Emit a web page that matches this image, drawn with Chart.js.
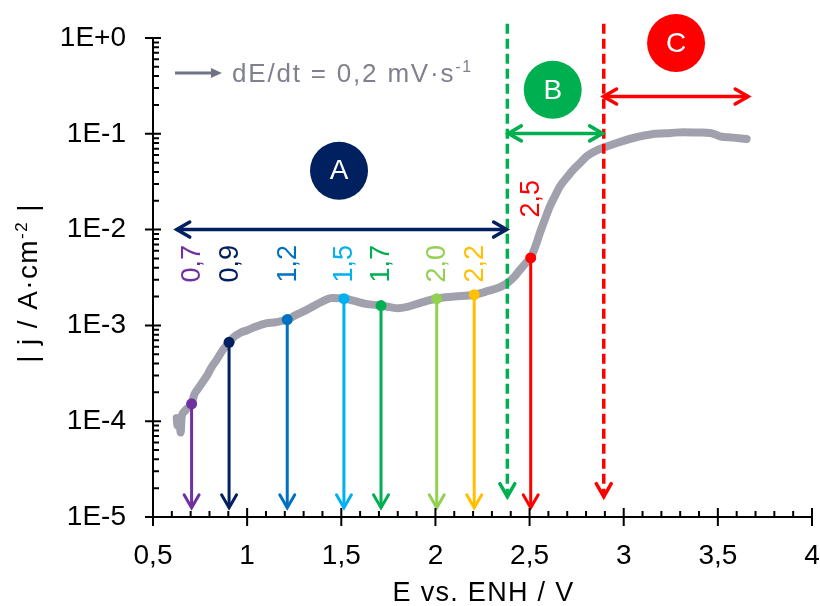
<!DOCTYPE html>
<html><head><meta charset="utf-8">
<script src="https://cdn.jsdelivr.net/npm/chart.js@4.4.1/dist/chart.umd.min.js"></script>
<style>html,body{margin:0;padding:0;background:#fff;}canvas{display:block;}</style>
</head><body>
<canvas id="c" width="820" height="606" style="width:820px;height:606px"></canvas>
<script>
const FONT = "'Liberation Sans', Arial, sans-serif";

// polarization curve |j| vs E
const curveE = [0.626,0.630,0.640,0.647,0.652,0.665,0.680,0.692,0.705,0.720,0.740,0.760,0.785,0.810,0.838,0.870,0.904,0.930,0.962,1.000,1.050,1.100,1.150,1.213,1.260,1.300,1.350,1.400,1.450,1.514,1.570,1.630,1.711,1.760,1.800,1.850,1.920,2.007,2.100,2.206,2.280,2.343,2.382,2.420,2.449,2.480,2.506,2.530,2.555,2.580,2.608,2.635,2.661,2.700,2.732,2.770,2.803,2.850,2.888,2.963,3.051,3.157,3.250,3.316,3.400,3.458,3.490,3.511,3.580,3.653];
const curveJ = [1.08e-4,9.0e-5,1.0e-4,7.6e-5,1.1e-4,1.25e-4,1.35e-4,1.40e-4,1.52e-4,1.91e-4,2.19e-4,2.51e-4,2.95e-4,3.63e-4,4.37e-4,5.50e-4,6.65e-4,7.59e-4,8.34e-4,8.91e-4,9.77e-4,1.05e-3,1.08e-3,1.15e-3,1.29e-3,1.40e-3,1.58e-3,1.78e-3,1.93e-3,1.91e-3,1.80e-3,1.68e-3,1.61e-3,1.55e-3,1.51e-3,1.56e-3,1.72e-3,1.91e-3,2.00e-3,2.09e-3,2.29e-3,2.51e-3,2.77e-3,3.24e-3,3.80e-3,4.47e-3,5.06e-3,6.61e-3,9.23e-3,1.26e-2,1.75e-2,2.24e-2,2.82e-2,3.55e-2,4.22e-2,5.01e-2,5.81e-2,6.61e-2,7.11e-2,8.02e-2,9.04e-2,9.95e-2,1.02e-1,1.04e-1,1.03e-1,1.02e-1,9.77e-2,9.40e-2,9.12e-2,8.83e-2];

// marked potentials
const markE = [0.705,0.904,1.213,1.514,1.711,2.007,2.206,2.506];
const markJ = [1.52e-4,6.65e-4,1.15e-3,1.90e-3,1.61e-3,1.90e-3,2.09e-3,5.06e-3];
const markLabels = ['0,7','0,9','1,2','1,5','1,7','2,0','2,2','2,5'];
const markLabelJ = [4.4e-3,4.4e-3,4.4e-3,4.4e-3,4.4e-3,4.4e-3,4.4e-3,2.1e-2];
const markColors = ['#7030a0','#002060','#0070c0','#00b0f0','#00b050','#92d050','#ffc000','#ff0000'];
const markArrowTipJ = 1.25e-5;

// regions A, B, C
const regionNames = ['A','B','C'];
const regionColors = ['#002060','#00b050','#ff0000'];
const regionCircleE = [1.488,2.623,3.278];
const regionCircleJ = [0.0412,0.288,0.887];
const regionFromE = [0.626,2.387,2.893];
const regionToE = [2.378,2.888,3.661];
const regionArrowJ = [0.01,0.101,0.245];

// region limits (dashed)
const limitE = [2.382,2.894];
const limitColors = ['#00b050','#ff0000'];
const limitTopJ = 1.41;
const limitTipJ = 1.63e-5;

// scan-rate note
const noteFromE = 0.617, noteToE = 0.866, noteJ = 0.431, noteTextE = 0.920;
const noteText = 'dE/dt = 0,2 mV·s', noteSup = '-1';

// axes
const xTickValues = [0.5,1,1.5,2,2.5,3,3.5,4];
const xTickLabels = ['0,5','1','1,5','2','2,5','3','3,5','4'];
const yTickValues = [1e-5,1e-4,1e-3,1e-2,1e-1,1];
const yTickLabels = ['1E-5','1E-4','1E-3','1E-2','1E-1','1E+0'];
const xTitle = 'E vs. ENH / V';
const yTitleParts = [['| j / A·cm',false],['-2',true],[' |',false]];

const pts = (xs, ys) => xs.map((v,i)=>({x:v,y:ys[i]}));
const datasets = [];
datasets.push({data: pts(curveE, curveJ), showLine:true, borderColor:'#a1a1ad', borderWidth:8, pointRadius:0, cubicInterpolationMode:'monotone', borderCapStyle:'round', borderJoinStyle:'round', order:10});
markE.forEach((e,i)=>datasets.push({data:[{x:e,y:markJ[i]},{x:e,y:markArrowTipJ}], showLine:true, borderColor:markColors[i], borderWidth:3, pointRadius:0, order:5}));
limitE.forEach((e,i)=>datasets.push({data:[{x:e,y:limitTopJ},{x:e,y:limitTipJ}], showLine:true, borderColor:limitColors[i], borderWidth:3.5, borderDash:[10,5], pointRadius:0, clip:false, order:2}));
regionNames.forEach((n,i)=>datasets.push({data:[{x:regionFromE[i],y:regionArrowJ[i]},{x:regionToE[i],y:regionArrowJ[i]}], showLine:true, borderColor:regionColors[i], borderWidth:3.5, pointRadius:0, clip:false, order:3}));
datasets.push({data: pts(markE, markJ), showLine:false, pointRadius:5.5, pointBackgroundColor:markColors, pointBorderWidth:0, order:1});
datasets.push({data: pts(regionCircleE, regionCircleJ), showLine:false, pointRadius:29, pointBackgroundColor:regionColors, pointBorderWidth:0, clip:false, order:0});
datasets.push({data:[{x:noteFromE,y:noteJ},{x:noteToE-0.03,y:noteJ}], showLine:true, borderColor:'#727285', borderWidth:3, pointRadius:0, clip:false, order:0});

function chevron(ctx, x, y, dx, dy, color, w){
  const len=13, half=7.5;
  const bx = x - dx*len, by = y - dy*len;
  const nx = -dy, ny = dx;
  ctx.beginPath();
  ctx.moveTo(bx + nx*half, by + ny*half);
  ctx.lineTo(x, y);
  ctx.lineTo(bx - nx*half, by - ny*half);
  ctx.strokeStyle=color; ctx.lineWidth=w; ctx.lineCap='round'; ctx.lineJoin='miter'; ctx.setLineDash([]);
  ctx.stroke();
}
function setSpacing(ctx, s){ if ('letterSpacing' in ctx) ctx.letterSpacing = s+'px'; }
function partsWidth(ctx, parts, fs){
  let w=0; parts.forEach(([t,s])=>{ctx.font=(s?Math.round(fs*0.62):fs)+'px '+FONT; w+=ctx.measureText(t).width;}); return w;
}
function drawParts(ctx, parts, x, y, fs){
  parts.forEach(([t,s])=>{ctx.font=(s?Math.round(fs*0.62):fs)+'px '+FONT; ctx.fillText(t, x, s? y-fs*0.36 : y); x+=ctx.measureText(t).width;});
}

const decor = {
  id:'decor',
  afterDatasetsDraw(chart){
    const {ctx, scales:{x, y}} = chart;
    const px=v=>x.getPixelForValue(v), py=v=>y.getPixelForValue(v);
    ctx.save();
    markE.forEach((e,i)=>chevron(ctx, px(e), py(markArrowTipJ), 0, 1, markColors[i], 3));
    limitE.forEach((e,i)=>chevron(ctx, px(e), py(limitTipJ), 0, 1, limitColors[i], 3.5));
    regionNames.forEach((n,i)=>{
      chevron(ctx, px(regionFromE[i]), py(regionArrowJ[i]), -1, 0, regionColors[i], 3.5);
      chevron(ctx, px(regionToE[i]), py(regionArrowJ[i]), 1, 0, regionColors[i], 3.5);
    });
    ctx.font = '27px '+FONT; ctx.textAlign='center'; ctx.textBaseline='middle';
    markLabels.forEach((t,i)=>{
      ctx.save(); ctx.translate(px(markE[i])+1, py(markLabelJ[i])); ctx.rotate(-Math.PI/2);
      ctx.fillStyle=markColors[i]; ctx.fillText(t,0,0); ctx.restore();
    });
    ctx.font='28px '+FONT; ctx.fillStyle='#fff';
    regionNames.forEach((n,i)=>ctx.fillText(n, px(regionCircleE[i]), py(regionCircleJ[i])+1));
    const tx=px(noteToE), ty=py(noteJ);
    ctx.beginPath(); ctx.moveTo(tx,ty); ctx.lineTo(tx-11,ty-5); ctx.lineTo(tx-11,ty+5); ctx.closePath();
    ctx.fillStyle='#727285'; ctx.fill();
    ctx.fillStyle='#80808f'; ctx.textAlign='left'; ctx.textBaseline='alphabetic';
    setSpacing(ctx, 1.8);
    drawParts(ctx, [[noteText,false],[noteSup,true]], px(noteTextE), ty+8.5, 26);
    setSpacing(ctx, 0);
    ctx.restore();
  },
  afterDraw(chart){
    const {ctx, scales:{x, y}} = chart;
    const px=v=>x.getPixelForValue(v), py=v=>y.getPixelForValue(v);
    const x0=px(0.5), x1=px(4), y0=py(1e-5), y1=py(1);
    ctx.save();
    ctx.strokeStyle='#000'; ctx.lineWidth=2; ctx.setLineDash([]); ctx.lineCap='butt';
    ctx.beginPath(); ctx.moveTo(x0,y1); ctx.lineTo(x0,y0); ctx.moveTo(x0,y0); ctx.lineTo(x1,y0); ctx.stroke();
    ctx.beginPath();
    yTickValues.forEach(v=>{const yy=py(v); ctx.moveTo(x0-8,yy); ctx.lineTo(x0+8,yy);});
    for(let d=-5; d<0; d++){ for(let k=2;k<=9;k++){ const yy=py(k*Math.pow(10,d)); ctx.moveTo(x0,yy); ctx.lineTo(x0+6,yy);} }
    xTickValues.forEach(v=>{const xx=px(v); ctx.moveTo(xx,y0-9); ctx.lineTo(xx,y0+9);});
    for(let i=5;i<=40;i++){ if(i%5===0) continue; const xx=px(i/10); ctx.moveTo(xx,y0); ctx.lineTo(xx,y0-6);}
    ctx.stroke();
    ctx.fillStyle='#000'; ctx.textBaseline='alphabetic';
    ctx.font='27px '+FONT; ctx.textAlign='center';
    setSpacing(ctx, 1.3);
    ctx.fillText(xTitle, (x0+x1)/2 + 1, 601);
    const fs=28;
    setSpacing(ctx, 1.4);
    const w=partsWidth(ctx, yTitleParts, fs);
    ctx.save(); ctx.translate(37, 283); ctx.rotate(-Math.PI/2); ctx.textAlign='left';
    drawParts(ctx, yTitleParts, -w/2, 0, fs); ctx.restore();
    setSpacing(ctx, 0);
    ctx.restore();
  }
};

new Chart(document.getElementById('c'), {
  type:'scatter',
  data:{datasets},
  options:{
    responsive:false, animation:false, events:[],
    layout:{autoPadding:false, padding:{top:38, right:8, left:0, bottom:0}},
    plugins:{legend:{display:false}, tooltip:{enabled:false}},
    scales:{
      x:{type:'linear', min:0.5, max:4,
        afterBuildTicks:s=>{s.ticks=xTickValues.map(v=>({value:v}));},
        afterFit:s=>{s.height=89; s.paddingLeft=0; s.paddingRight=0;},
        grid:{display:false, drawTicks:true, tickLength:22}, border:{display:false},
        ticks:{autoSkip:false, maxRotation:0, padding:0, color:'#000', font:{size:28, family:FONT},
          callback:v=>xTickLabels[xTickValues.indexOf(v)]}},
      y:{type:'logarithmic', min:1e-5, max:1,
        afterBuildTicks:s=>{s.ticks=yTickValues.map(v=>({value:v}));},
        afterFit:s=>{s.width=153; s.paddingTop=0; s.paddingBottom=0;},
        grid:{display:false, drawTicks:true, tickLength:27}, border:{display:false},
        ticks:{autoSkip:false, padding:0, color:'#000', font:{size:28, family:FONT},
          callback:v=>{const i=yTickValues.findIndex(t=>Math.abs(Math.log10(t)-Math.log10(v))<1e-6); return i>=0?yTickLabels[i]:'';}}}
    }
  },
  plugins:[decor]
});
</script>
</body></html>
